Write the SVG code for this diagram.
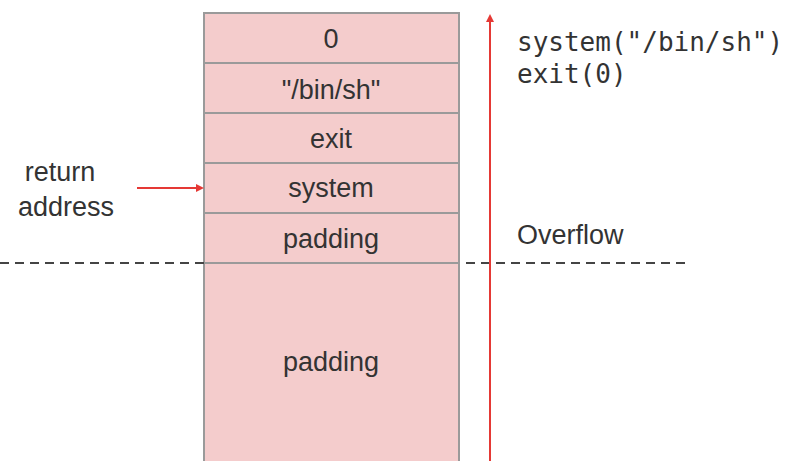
<svg xmlns="http://www.w3.org/2000/svg" width="790" height="461" viewBox="0 0 790 461">
<style>
.cell{fill:#f4cccc;stroke:#9a9a9a;stroke-width:2}
.t{font-family:"Liberation Sans",Arial,sans-serif;font-size:27px;fill:#333;text-anchor:middle}
.l{font-family:"Liberation Sans",Arial,sans-serif;font-size:27px;fill:#333}
.m{font-family:"DejaVu Sans Mono",monospace;font-size:26px;fill:#333}
.dash{stroke:#444;stroke-width:2;stroke-dasharray:9,6;fill:none}
.red{stroke:#e53935;stroke-width:2;fill:none}
</style>
<defs>
<marker id="ah" markerWidth="8" markerHeight="8" refX="6" refY="4" orient="auto" markerUnits="userSpaceOnUse">
<path d="M0,0 L8,4 L0,8 z" fill="#e53935"/>
</marker>
</defs>
<rect width="790" height="461" fill="#fff"/>
<g id="stack">
<g id="cell-0"><rect class="cell" x="204" y="13" width="255" height="50"/><text class="t" x="331" y="48">0</text></g>
<g id="cell-binsh"><rect class="cell" x="204" y="63" width="255" height="50"/><text class="t" x="331" y="99">"/bin/sh"</text></g>
<g id="cell-exit"><rect class="cell" x="204" y="113" width="255" height="50"/><text class="t" x="331" y="148">exit</text></g>
<g id="cell-system"><rect class="cell" x="204" y="163" width="255" height="50"/><text class="t" x="331" y="197">system</text></g>
<g id="cell-padding1"><rect class="cell" x="204" y="213" width="255" height="50"/><text class="t" x="331" y="248">padding</text></g>
<g id="cell-padding2"><rect class="cell" x="204" y="263" width="255" height="210"/><text class="t" x="331" y="371">padding</text></g>
</g>
<g id="return-address"><text class="t" x="60" y="181">return</text><text class="t" x="66" y="216">address</text></g>
<g id="code"><text class="m" x="517" y="51">system("/bin/sh")</text><text class="m" x="517" y="83">exit(0)</text></g>
<g id="overflow"><text class="l" x="517" y="244">Overflow</text></g>
<g id="connectors">
<line class="dash" x1="0" y1="263" x2="204" y2="263"/>
<line class="dash" x1="466" y1="263" x2="688" y2="263"/>
<line class="red" x1="137" y1="188" x2="202" y2="188" marker-end="url(#ah)"/>
<line class="red" x1="490" y1="461" x2="490" y2="16" marker-end="url(#ah)"/>
</g>
</svg>
